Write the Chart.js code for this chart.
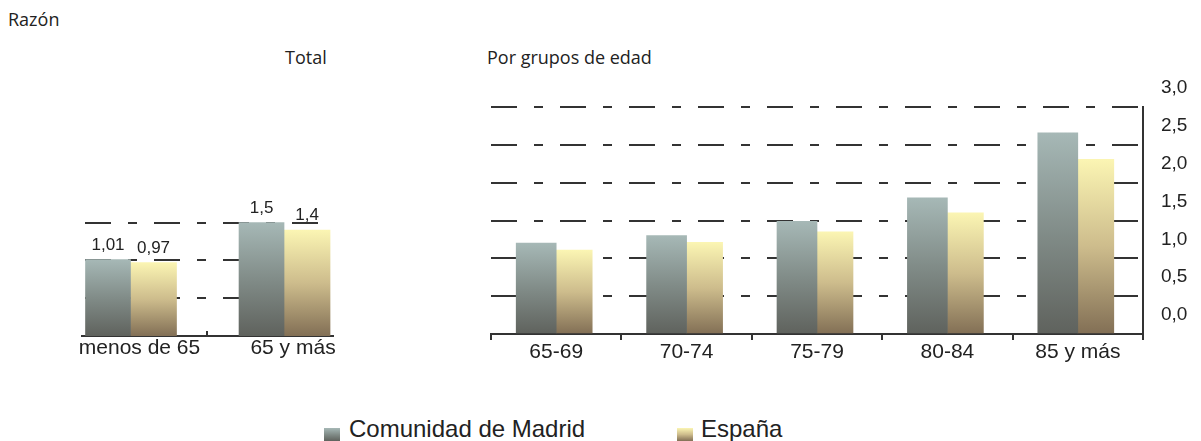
<!DOCTYPE html>
<html>
<head>
<meta charset="utf-8">
<script src="https://cdn.jsdelivr.net/npm/chart.js@4"></script>
<style>
  body { margin: 0; width: 1201px; height: 441px; background: #fff; position: relative; overflow: hidden; }
  .txt { position: absolute; line-height: 1; white-space: nowrap; color: #222; }
  .hum { font-family: "Open Sans", sans-serif; font-size: 18px; }
  .leg { font-family: "Liberation Sans", Arial, sans-serif; font-size: 24px; }
  .box { position: absolute; width: 16px; height: 13px; }
  canvas { position: absolute; }
</style>
</head>
<body>
<div class="txt hum" style="left:8px; top:10px;">Razón</div>
<div class="txt hum" style="left:285px; top:48px;">Total</div>
<div class="txt hum" style="left:487px; top:48px;">Por grupos de edad</div>

<canvas id="totalChart" width="300" height="210" style="left:60px; top:160px;"></canvas>
<canvas id="groupChart" width="721" height="320" style="left:480px; top:60px;"></canvas>

<div class="box" id="boxMadrid" style="left:324px; top:428px;"></div>
<div class="txt leg" style="left:349px; top:417px;">Comunidad de Madrid</div>
<div class="box" id="boxEspana" style="left:677px; top:428px;"></div>
<div class="txt leg" style="left:701px; top:417px;">España</div>

<script>
// DATA
const totalLabels = ["menos de 65", "65 y más"];
const totalMadrid = [1.01, 1.5];
const totalEspana = [0.97, 1.4];

const groupLabels = ["65-69", "70-74", "75-79", "80-84", "85 y más"];
const groupMadrid = [1.20, 1.30, 1.49, 1.80, 2.66];
const groupEspana = [1.11, 1.21, 1.35, 1.60, 2.31];

const yTicks = [0, 0.5, 1, 1.5, 2, 2.5, 3];
const totalGridTicks = [0.5, 1, 1.5];

const seriesNames = ["Comunidad de Madrid", "España"];

// COLOURS
const madridStops = ["#a6b8b6", "#818c88", "#5f625d"];
const espanaStops = ["#fbf5b3", "#cdbc8c", "#826f55"];
const ink = "#333";
const dash = [26, 17, 9, 17];
const axisFont = { family: "Liberation Sans", size: 21 };

document.getElementById("boxMadrid").style.background =
    `linear-gradient(${madridStops.join(",")})`;
document.getElementById("boxEspana").style.background =
    `linear-gradient(${espanaStops.join(",")})`;

// gradient from each bar's top down to zero
function barGradient(stops) {
    return function(c) {
        let chart = c.chart;
        if (!chart.chartArea || !c.parsed) return stops[0];
        let y = chart.scales.y;
        let top = y.getPixelForValue(c.parsed.y);
        let bottom = y.getPixelForValue(0);
        let g = chart.ctx.createLinearGradient(0, top, 0, bottom);
        stops.forEach((s, i) => g.addColorStop(i / (stops.length - 1), s));
        return g;
    };
}

function comma(v, d) {
    return (d == null ? String(v) : v.toFixed(d)).replace(".", ",");
}

// value labels above the bars of the total panel
const valueLabels = {
    id: "valueLabels",
    afterDatasetsDraw(chart) {
        let ctx = chart.ctx;
        ctx.save();
        ctx.font = "17px 'Liberation Sans'";
        ctx.fillStyle = "#222";
        ctx.textAlign = "center";
        ctx.textBaseline = "alphabetic";
        chart.data.datasets.forEach((ds, i) => {
            chart.getDatasetMeta(i).data.forEach((bar, j) => {
                ctx.fillText(comma(ds.data[j].y), bar.x, bar.y - 10);
            });
        });
        ctx.restore();
    }
};

// TOTAL
new Chart(document.getElementById("totalChart"), {
    type: "bar",
    data: {
        datasets: [
            {
                label: seriesNames[0],
                data: totalMadrid.map((v, i) => ({ x: i, y: v })),
                backgroundColor: barGradient(madridStops),
                barThickness: 45
            },
            {
                label: seriesNames[1],
                data: totalEspana.map((v, i) => ({ x: i, y: v })),
                backgroundColor: barGradient(espanaStops),
                barThickness: 46
            }
        ]
    },
    options: {
        responsive: false,
        animation: false,
        layout: { padding: { left: 22, right: 27, top: 47.4, bottom: 0 } },
        plugins: { legend: { display: false }, tooltip: { enabled: false } },
        scales: {
            x: {
                type: "linear",
                min: -0.316,
                max: 1.319,
                offset: false,
                afterBuildTicks: s => { s.ticks = [0, 0.5, 1].map(v => ({ value: v })); },
                afterFit: s => { s.height = 34; },
                ticks: {
                    autoSkip: false,
                    maxRotation: 0,
                    minRotation: 0,
                    labelOffset: 9,
                    padding: 5,
                    color: "#222",
                    font: axisFont,
                    callback: v => (Number.isInteger(v) ? totalLabels[v] : "")
                },
                grid: {
                    offset: false,
                    drawOnChartArea: false,
                    tickLength: -5,
                    lineWidth: 2,
                    color: c => (c.tick && c.tick.value === 0.5 ? ink : "rgba(0,0,0,0)")
                },
                border: { display: true, color: ink, width: 2 }
            },
            y: {
                min: 0,
                max: 1.7,
                afterBuildTicks: s => { s.ticks = totalGridTicks.map(v => ({ value: v })); },
                ticks: { display: false },
                grid: { color: ink, lineWidth: 2, drawTicks: false },
                border: { display: false, dash: dash, dashOffset: -3 }
            }
        }
    },
    plugins: [valueLabels]
});

// POR GRUPOS DE EDAD
new Chart(document.getElementById("groupChart"), {
    type: "bar",
    data: {
        labels: groupLabels,
        datasets: [
            {
                label: seriesNames[0],
                data: groupMadrid,
                backgroundColor: barGradient(madridStops),
                barThickness: 40
            },
            {
                label: seriesNames[1],
                data: groupEspana,
                backgroundColor: barGradient(espanaStops),
                barThickness: 36
            }
        ]
    },
    options: {
        responsive: false,
        animation: false,
        layout: { padding: { left: 11, right: 0, top: 47, bottom: 0 } },
        plugins: { legend: { display: false }, tooltip: { enabled: false } },
        scales: {
            x: {
                afterFit: s => { s.height = 46; },
                ticks: { maxRotation: 0, minRotation: 0, padding: 0, color: "#222", font: axisFont },
                grid: { drawOnChartArea: false, tickLength: 6, lineWidth: 2, color: ink },
                border: { display: true, color: ink, width: 2 }
            },
            y: {
                position: "right",
                min: 0,
                max: 3,
                afterBuildTicks: s => { s.ticks = yTicks.map(v => ({ value: v })); },
                afterFit: s => { s.width = 58; },
                ticks: {
                    padding: 18,
                    labelOffset: -19,
                    color: "#222",
                    font: { family: "Liberation Sans", size: 19 },
                    callback: v => comma(v, 1)
                },
                grid: { color: ink, lineWidth: 2, drawTicks: false },
                border: { display: true, color: ink, width: 2, dash: dash }
            }
        }
    }
});
</script>
</body>
</html>
